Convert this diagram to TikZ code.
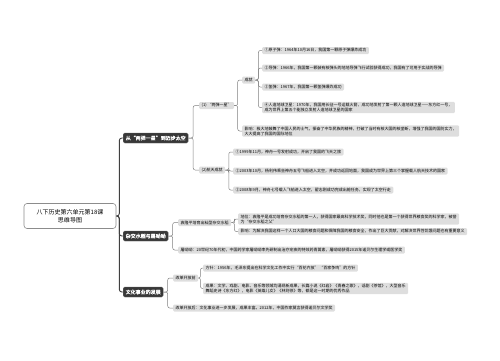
\documentclass[tikz,border=0pt]{standalone}
\usepackage{fontspec}
\setmainfont{Noto Sans CJK SC}[AutoFakeBold=1.5]
\usetikzlibrary{calc}

% connector from a parent to one child, bracket between them
\newcommand\mmlink[3][link]{\draw[#1] (#2.east) -| ($(#2.east)!.45!(#3.west)$) |- (#3.west);}

\begin{document}
\begin{tikzpicture}[x=1pt, y=-1pt,
    root/.style={draw=black!45, fill=white, rounded corners=3pt, line width=0.6pt, minimum width=92pt, minimum height=25pt, align=center, font=\fontsize{6}{8}\selectfont},
    topic/.style={fill=black!78, draw=black!60, text=white, rounded corners=1.5pt, inner xsep=2.5pt, inner ysep=1.5pt, minimum height=10pt, font=\fontsize{5}{6}\selectfont\bfseries, anchor=west},
    leaf/.style={fill=black!13, rounded corners=1.2pt, inner xsep=2.5pt, inner ysep=1.3pt, minimum height=7pt, align=left, font=\fontsize{4}{5}\selectfont, anchor=west},
    link/.style={draw=black!50, line width=0.5pt, rounded corners=2pt},
    trunk/.style={draw=black!75, line width=0.9pt, rounded corners=2.5pt}
]
    \useasboundingbox (0,0) rectangle (500,360);

    % Root and main topics
    \node (root) [root] at (70,216) {八下历史第六单元第18课\\思维导图};
    \node (space) [topic] at (123,138) {从“两弹一星”到迈步太空};
    \node (rice) [topic] at (123,236) {杂交水稻与屠呦呦};
    \node (culture) [topic] at (123,292) {文化事业的发展};

    % Branch 1
    \node (bomb) [leaf] at (199,105.5) {(1) “两弹一星”};
    \node (flight) [leaf] at (199,170) {(2)航天成就};
    \node (gain) [leaf] at (242,80) {成就};
    \node (effect) [leaf] at (242,131) {影响：极大地鼓舞了中国人民的士气，振奋了中华民族的精神，打破了当时有核大国的核垄断，增强了我国的国防实力，\\大大提高了我国的国际地位};
    \node (atom) [leaf] at (262,50.5) {①原子弹：1964年10月16日，我国第一颗原子弹爆炸成功};
    \node (missile) [leaf] at (262,68) {②导弹：1966年，我国第一颗装有核弹头的地地导弹飞行试验获得成功，我国有了可用于实战的导弹};
    \node (hbomb) [leaf] at (262,87) {③氢弹：1967年，我国第一颗氢弹爆炸成功};
    \node (sat) [leaf] at (262,107.5) {④人造地球卫星：1970年，我国用长征一号运载火箭，成功地发射了第一颗人造地球卫星——东方红一号，\\成为世界上第五个能独立发射人造地球卫星的国家};
    \node (sz1) [leaf] at (233,152) {①1999年11月，神舟一号发射成功，开启了我国的飞天之旅};
    \node (sz5) [leaf] at (233,171) {②2003年10月，杨利伟乘坐神舟五号飞船进入太空，并成功返回地面，我国成为世界上第三个掌握载人航天技术的国家};
    \node (sz7) [leaf] at (233,190) {③2008年9月，神舟七号载人飞船进入太空，翟志刚成功完成出舱任务，实现了太空行走};

    % Branch 2
    \node (yuan) [leaf] at (178,222.5) {袁隆平培育出籼型杂交水稻};
    \node (rank) [leaf] at (238,219) {地位：袁隆平是成功培育杂交水稻的第一人，获得国家最高科学技术奖，同时他也是第一个获得世界粮食奖的科学家，被誉\\为“杂交水稻之父”};
    \node (riceeff) [leaf] at (238,231.5) {影响：为解决我国这样一个人口大国的粮食问题和保障我国的粮食安全，作出了巨大贡献，对解决世界性饥饿问题也有重要意义};
    \node (tu) [leaf] at (178,250) {屠呦呦：20世纪70年代初，中国药学家屠呦呦率先研制出治疗疟疾的特效药青蒿素，屠呦呦获得2015年诺贝尔生理学或医学奖};

    % Branch 3
    \node (before) [leaf] at (173,278) {改革开放前};
    \node (after) [leaf] at (173,308) {改革开放后：文化事业进一步发展，成果丰富。2012年，中国作家莫言获得诺贝尔文学奖};
    \node (policy) [leaf] at (203,268) {方针：1956年，毛泽东提出在科学文化工作中实行“百花齐放” “百家争鸣”的方针};
    \node (works) [leaf] at (203,288.5) {成果：文学、戏剧、电影、音乐等领域均涌现新成果，长篇小说《红岩》《青春之歌》，话剧《茶馆》，大型音乐\\舞蹈史诗《东方红》，电影《英雄儿女》《林则徐》等，都是这一时期的优秀作品};

    % Links
    \mmlink[trunk]{root}{space}
    \mmlink[trunk]{root}{rice}
    \mmlink[trunk]{root}{culture}
    \mmlink{space}{bomb}
    \mmlink{space}{flight}
    \mmlink{bomb}{gain}
    \mmlink{bomb}{effect}
    \mmlink{gain}{atom}
    \mmlink{gain}{missile}
    \mmlink{gain}{hbomb}
    \mmlink{gain}{sat}
    \mmlink{flight}{sz1}
    \mmlink{flight}{sz5}
    \mmlink{flight}{sz7}
    \mmlink{rice}{yuan}
    \mmlink{rice}{tu}
    \mmlink{yuan}{rank}
    \mmlink{yuan}{riceeff}
    \mmlink{culture}{before}
    \mmlink{culture}{after}
    \mmlink{before}{policy}
    \mmlink{before}{works}
\end{tikzpicture}
\end{document}
